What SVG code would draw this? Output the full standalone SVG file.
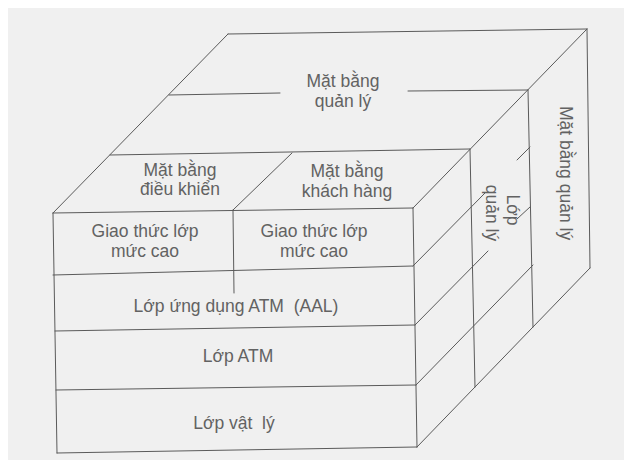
<svg xmlns="http://www.w3.org/2000/svg" width="624" height="460" viewBox="0 0 624 460">
<style>
.ln{stroke:#5a5a5a;stroke-width:1;fill:none;stroke-linecap:round}
.t{font-family:"Liberation Sans",Arial,sans-serif;font-size:17.5px;fill:#626262;text-anchor:middle}
</style>
<rect x="0" y="0" width="624" height="460" fill="#ffffff"/>
<rect x="8" y="8" width="616" height="452" fill="#f0f0f0"/>
<g id="connectors">
<g id="top-face">
<line class="ln" x1="228" y1="34" x2="587" y2="29"/>
<line class="ln" x1="228" y1="34" x2="53" y2="213"/>
<line class="ln" x1="587" y1="29" x2="413" y2="208"/>
<line class="ln" x1="169" y1="95" x2="280" y2="93"/>
<line class="ln" x1="408" y1="91" x2="528" y2="90"/>
<line class="ln" x1="110" y1="155" x2="470" y2="149"/>
<line class="ln" x1="292" y1="153" x2="233" y2="210"/>
</g>
<g id="front-face">
<line class="ln" x1="53" y1="213" x2="413" y2="208"/>
<line class="ln" x1="53" y1="275" x2="413" y2="266"/>
<line class="ln" x1="55" y1="331" x2="415" y2="325"/>
<line class="ln" x1="56" y1="390" x2="416" y2="385"/>
<line class="ln" x1="57" y1="453" x2="417" y2="447"/>
<line class="ln" x1="53" y1="213" x2="57" y2="453"/>
<line class="ln" x1="413" y1="208" x2="417" y2="447"/>
<line class="ln" x1="233" y1="210" x2="234" y2="293"/>
</g>
<g id="side-face">
<line class="ln" x1="413" y1="266" x2="485" y2="193"/>
<line class="ln" x1="517" y1="160" x2="530" y2="147"/>
<line class="ln" x1="415" y1="325" x2="488" y2="251"/>
<line class="ln" x1="517" y1="219" x2="530" y2="207"/>
<line class="ln" x1="416" y1="385" x2="533" y2="265"/>
<line class="ln" x1="417" y1="447" x2="590" y2="268"/>
<line class="ln" x1="470" y1="149" x2="475" y2="387"/>
<line class="ln" x1="528" y1="90" x2="533" y2="327"/>
<line class="ln" x1="587" y1="29" x2="590" y2="268"/>
</g>
</g>
<g id="mat-bang-quan-ly-top">
<text class="t" x="343" y="87">Mặt bằng</text>
<text class="t" x="343" y="107">quản lý</text>
</g>
<g id="mat-bang-dieu-khien">
<text class="t" x="180" y="176">Mặt bằng</text>
<text class="t" x="180" y="195">điều khiển</text>
</g>
<g id="mat-bang-khach-hang">
<text class="t" x="347" y="177">Mặt bằng</text>
<text class="t" x="347" y="197">khách hàng</text>
</g>
<g id="giao-thuc-trai">
<text class="t" x="145" y="237">Giao thức lớp</text>
<text class="t" x="145" y="257">mức cao</text>
</g>
<g id="giao-thuc-phai">
<text class="t" x="314" y="237">Giao thức lớp</text>
<text class="t" x="314" y="257">mức cao</text>
</g>
<g id="lop-aal">
<text class="t" x="236" y="312" xml:space="preserve">Lớp ứng dụng ATM  (AAL)</text>
</g>
<g id="lop-atm">
<text class="t" x="238" y="362">Lớp ATM</text>
</g>
<g id="lop-vat-ly">
<text class="t" x="234" y="429" xml:space="preserve">Lớp vật  lý</text>
</g>
<g id="lop-quan-ly">
<text class="t" transform="translate(507,210) rotate(90)">Lớp</text>
<text class="t" transform="translate(486,213) rotate(90)">quản lý</text>
</g>
<g id="mat-bang-quan-ly-side">
<text class="t" transform="translate(560,173) rotate(90)">Mặt bằng quản lý</text>
</g>
</svg>
